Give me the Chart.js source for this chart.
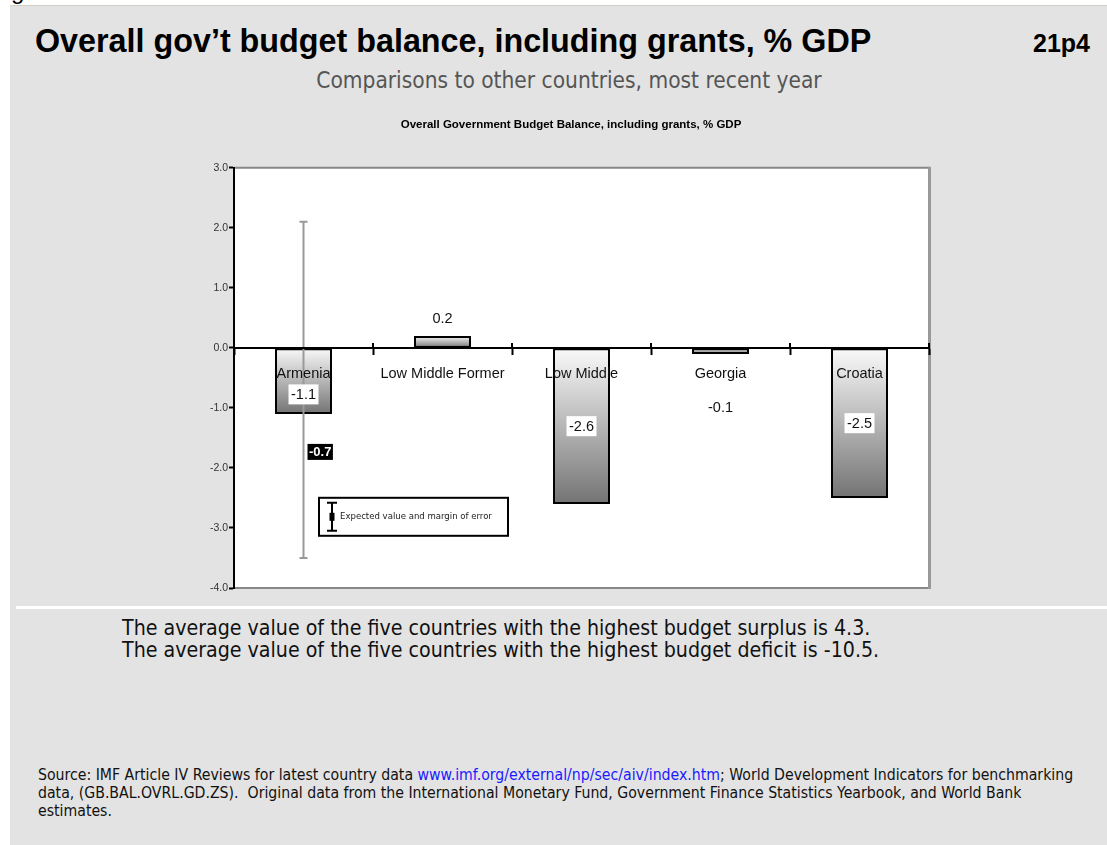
<!DOCTYPE html>
<html>
<head>
<meta charset="utf-8">
<script src="https://cdn.jsdelivr.net/npm/chart.js@4.4.1/dist/chart.umd.min.js"></script>
<style>
  html, body { margin: 0; padding: 0; background: #ffffff; }
  body { width: 1107px; height: 845px; position: relative; overflow: hidden; font-family: "Liberation Sans", Arial, sans-serif; }
  .frag { position: absolute; left: 11px; top: -21px; font-size: 24px; line-height: 1; color: #000; }
  .panel { position: absolute; left: 10px; top: 5px; right: 0; bottom: 0; background: #e3e3e3; border-top: 1px solid #d4cfc6; }
  .title { position: absolute; left: 35px; top: 25px; font-size: 32.3px; font-weight: bold; line-height: 1; color: #000; white-space: nowrap; }
  .code { position: absolute; left: 1033px; top: 31px; font-size: 25px; font-weight: bold; line-height: 1; color: #000; }
  .sub { position: absolute; left: 0; width: 1138px; text-align: center; top: 69px; font-size: 22.5px; line-height: 1; color: #555; white-space: nowrap;
         font-family: "Liberation Sans Narrow", "Arial Narrow", "DejaVu Sans Condensed", sans-serif; }
  .sep { position: absolute; left: 16px; right: 0; top: 606px; height: 3px; background: #ffffff; }
  .note { position: absolute; left: 122px; top: 617px; font-size: 21.2px; line-height: 22px; color: #111; white-space: nowrap;
          font-family: "Liberation Sans Narrow", "Arial Narrow", "DejaVu Sans Condensed", sans-serif; }
  .source { position: absolute; left: 38px; top: 766px; width: 1050px; font-size: 15.7px; line-height: 18px; color: #111;
            font-family: "Liberation Sans Narrow", "Arial Narrow", "DejaVu Sans Condensed", sans-serif; }
  .source a { color: #1a1aff; text-decoration: none; }
  #wrap { position: absolute; left: 171px; top: 112px; width: 800px; height: 490px; }
</style>
</head>
<body>
<div class="frag">g</div>
<div class="panel"></div>
<div class="title">Overall gov’t budget balance, including grants, % GDP</div>
<div class="code">21p4</div>
<div class="sub">Comparisons to other countries, most recent year</div>
<div id="wrap"><canvas id="budgetChart" width="800" height="490"></canvas></div>
<div class="sep"></div>
<div class="note">The average value of the five countries with the highest budget surplus is 4.3.<br>The average value of the five countries with the highest budget deficit is -10.5.</div>
<div class="source">Source: IMF Article IV Reviews for latest country data <a>www.imf.org/external/np/sec/aiv/index.htm</a>; World Development Indicators for benchmarking data, (GB.BAL.OVRL.GD.ZS).&nbsp; Original data from the International Monetary Fund, Government Finance Statistics Yearbook, and World Bank estimates.</div>
<script>
const categories = ["Armenia", "Low Middle Former", "Low Middle", "Georgia", "Croatia"];
const balanceValues = [-1.1, 0.2, -2.6, -0.1, -2.5];
const yMin = -4;
const yMax = 3;
const yStep = 1;
// Armenia: expected value and margin of error
const expectedValue = -0.7;
const errorLow = -3.5;
const errorHigh = 2.1;
const legendText = "Expected value and margin of error";

const NARROW = '"Liberation Sans Narrow", "Arial Narrow", "DejaVu Sans Condensed", sans-serif';
const SANS = '"Liberation Sans", Arial, sans-serif';

document.addEventListener("DOMContentLoaded", function () {
	const ctx = document.getElementById("budgetChart");
	if (!ctx) return;

	function barGradient(c) {
		const chart = c.chart;
		if (!chart.chartArea || c.type !== "data") return "#bbbbbb";
		const y = chart.scales.y;
		const v = c.raw;
		const top = y.getPixelForValue(Math.max(v, 0));
		const bot = y.getPixelForValue(Math.min(v, 0));
		const g = chart.ctx.createLinearGradient(0, top, 0, bot + 0.01);
		g.addColorStop(0, "#fafafa");
		g.addColorStop(1, "#737373");
		return g;
	}

	const plotFrame = {
		id: "plotFrame",
		afterLayout(chart) {
			// let the y tick labels run into the left padding (they are clipped to the scale box)
			chart.scales.y.left = 0;
		},
		beforeDraw(chart) {
			const a = chart.chartArea;
			const c = chart.ctx;
			c.save();
			c.fillStyle = "#ffffff";
			c.fillRect(a.left, a.top, a.right - a.left, a.bottom - a.top);
			c.strokeStyle = "#888888";
			c.lineWidth = 2;
			c.beginPath();
			c.moveTo(a.left, a.top);
			c.lineTo(a.right, a.top);
			c.moveTo(a.left, a.bottom);
			c.lineTo(a.right, a.bottom);
			c.stroke();
			c.lineWidth = 3;
			c.strokeStyle = "#999999";
			c.beginPath();
			c.moveTo(a.right + 0.5, a.top - 1);
			c.lineTo(a.right + 0.5, a.bottom + 1);
			c.stroke();
			c.restore();
		},
		afterDatasetsDraw(chart) {
			// margin of error line on the first category
			const c = chart.ctx;
			const y = chart.scales.y;
			const x = chart.getDatasetMeta(0).data[0].x;
			const yh = y.getPixelForValue(errorHigh);
			const yl = y.getPixelForValue(errorLow);
			c.save();
			c.strokeStyle = "#9a9a9a";
			c.lineWidth = 2;
			c.beginPath();
			c.moveTo(x, yh); c.lineTo(x, yl);
			c.moveTo(x - 4, yh); c.lineTo(x + 4, yh);
			c.moveTo(x - 4, yl); c.lineTo(x + 4, yl);
			c.stroke();
			c.restore();
		},
		afterDraw(chart) {
			const c = chart.ctx;
			const a = chart.chartArea;
			const xs = chart.scales.x;
			const y = chart.scales.y;
			const zero = y.getPixelForValue(0);
			c.save();
			// upper half of the category tick marks
			c.strokeStyle = "#000";
			c.lineWidth = 2;
			c.beginPath();
			for (let i = 0; i <= categories.length; i++) {
				const px = Math.round(xs.getPixelForValue(i - 0.5));
				c.moveTo(px, zero - 5);
				c.lineTo(px, zero);
			}
			c.stroke();

			// value labels
			c.font = "14.5px " + SANS;
			c.textAlign = "center";
			c.textBaseline = "middle";
			const meta = chart.getDatasetMeta(0);
			meta.data.forEach((bar, i) => {
				const v = balanceValues[i];
				const txt = v.toFixed(1);
				let cy;
				let boxed = false;
				if (Math.abs(v) >= 0.5) {
					cy = Math.max((bar.y + bar.base) / 2, bar.base + 46);
					boxed = true;
				} else if (v > 0) {
					cy = bar.y - 18;
				} else {
					cy = bar.base + 59;
				}
				if (boxed) {
					const w = c.measureText(txt).width + 5;
					c.fillStyle = "#ffffff";
					c.fillRect(bar.x - w / 2, cy - 10, w, 20);
				}
				c.fillStyle = "#111";
				c.fillText(txt, bar.x, cy + 1);
			});

			// expected value tag
			const ex = meta.data[0].x;
			const ey = y.getPixelForValue(expectedValue) + 62;
			c.font = "bold 13px " + SANS;
			const et = expectedValue.toFixed(1);
			const ew = c.measureText(et).width + 3;
			c.fillStyle = "#000";
			c.fillRect(ex + 4, ey - 8, ew, 16);
			c.fillStyle = "#fff";
			c.textAlign = "left";
			c.fillText(et, ex + 5.5, ey + 1);

			// legend box
			const lx = a.left + 85;
			const ly = a.top + 330;
			c.fillStyle = "#fff";
			c.fillRect(lx, ly, 189, 38);
			c.strokeStyle = "#000";
			c.lineWidth = 2;
			c.strokeRect(lx, ly, 189, 38);
			const ix = lx + 13;
			c.beginPath();
			c.moveTo(ix, ly + 5); c.lineTo(ix, ly + 33);
			c.moveTo(ix - 5, ly + 5); c.lineTo(ix + 5, ly + 5);
			c.moveTo(ix - 5, ly + 33); c.lineTo(ix + 5, ly + 33);
			c.stroke();
			c.fillStyle = "#000";
			c.fillRect(ix - 2.5, ly + 15, 5, 8);
			c.font = "9.5px " + NARROW;
			c.fillStyle = "#222";
			c.textAlign = "left";
			c.fillText(legendText, lx + 21, ly + 19);
			c.restore();
		}
	};

	new Chart(ctx, {
		type: "bar",
		data: {
			labels: categories,
			datasets: Array({
				label: "Budget balance, % GDP",
				data: balanceValues,
				backgroundColor: barGradient,
				borderColor: "#000000",
				borderWidth: 2,
				borderSkipped: false,
				barPercentage: 0.41,
				categoryPercentage: 1,
			}),
		},
		options: {
			responsive: false,
			animation: false,
			devicePixelRatio: 1,
			layout: { padding: { left: 42, right: 42, top: 6, bottom: 14 } },
			plugins: {
				legend: { display: false },
				tooltip: { enabled: false },
				title: {
					display: true,
					text: "Overall Government Budget Balance, including grants, % GDP",
					color: "#000",
					font: { family: SANS, size: 11.5, weight: "bold" },
					padding: { top: 0, bottom: 36 },
				},
			},
			scales: {
				x: {
					position: { y: 0 },
					grid: { z: 1, offset: true, drawOnChartArea: false, drawTicks: true, tickLength: 6, tickWidth: 2, tickColor: "#000" },
					border: { z: 1, display: true, color: "#000", width: 2 },
					ticks: {
						z: 1,
						autoSkip: false,
						maxRotation: 0,
						padding: 11,
						color: "#111",
						font: { family: SANS, size: 14.5 },
					},
				},
				y: {
					min: yMin,
					max: yMax,
					afterFit: (s) => { s.width = 21; },
					grid: { drawOnChartArea: false, tickLength: 5, tickWidth: 2, tickColor: "#000" },
					border: { color: "#000", width: 2 },
					ticks: {
						stepSize: yStep,
						padding: 1,
						color: "#333",
						font: { family: SANS, size: 10.5 },
						callback: (v) => Number(v).toFixed(1),
					},
				},
			},
		},
		plugins: [plotFrame],
	});
});
</script>
</body>
</html>
